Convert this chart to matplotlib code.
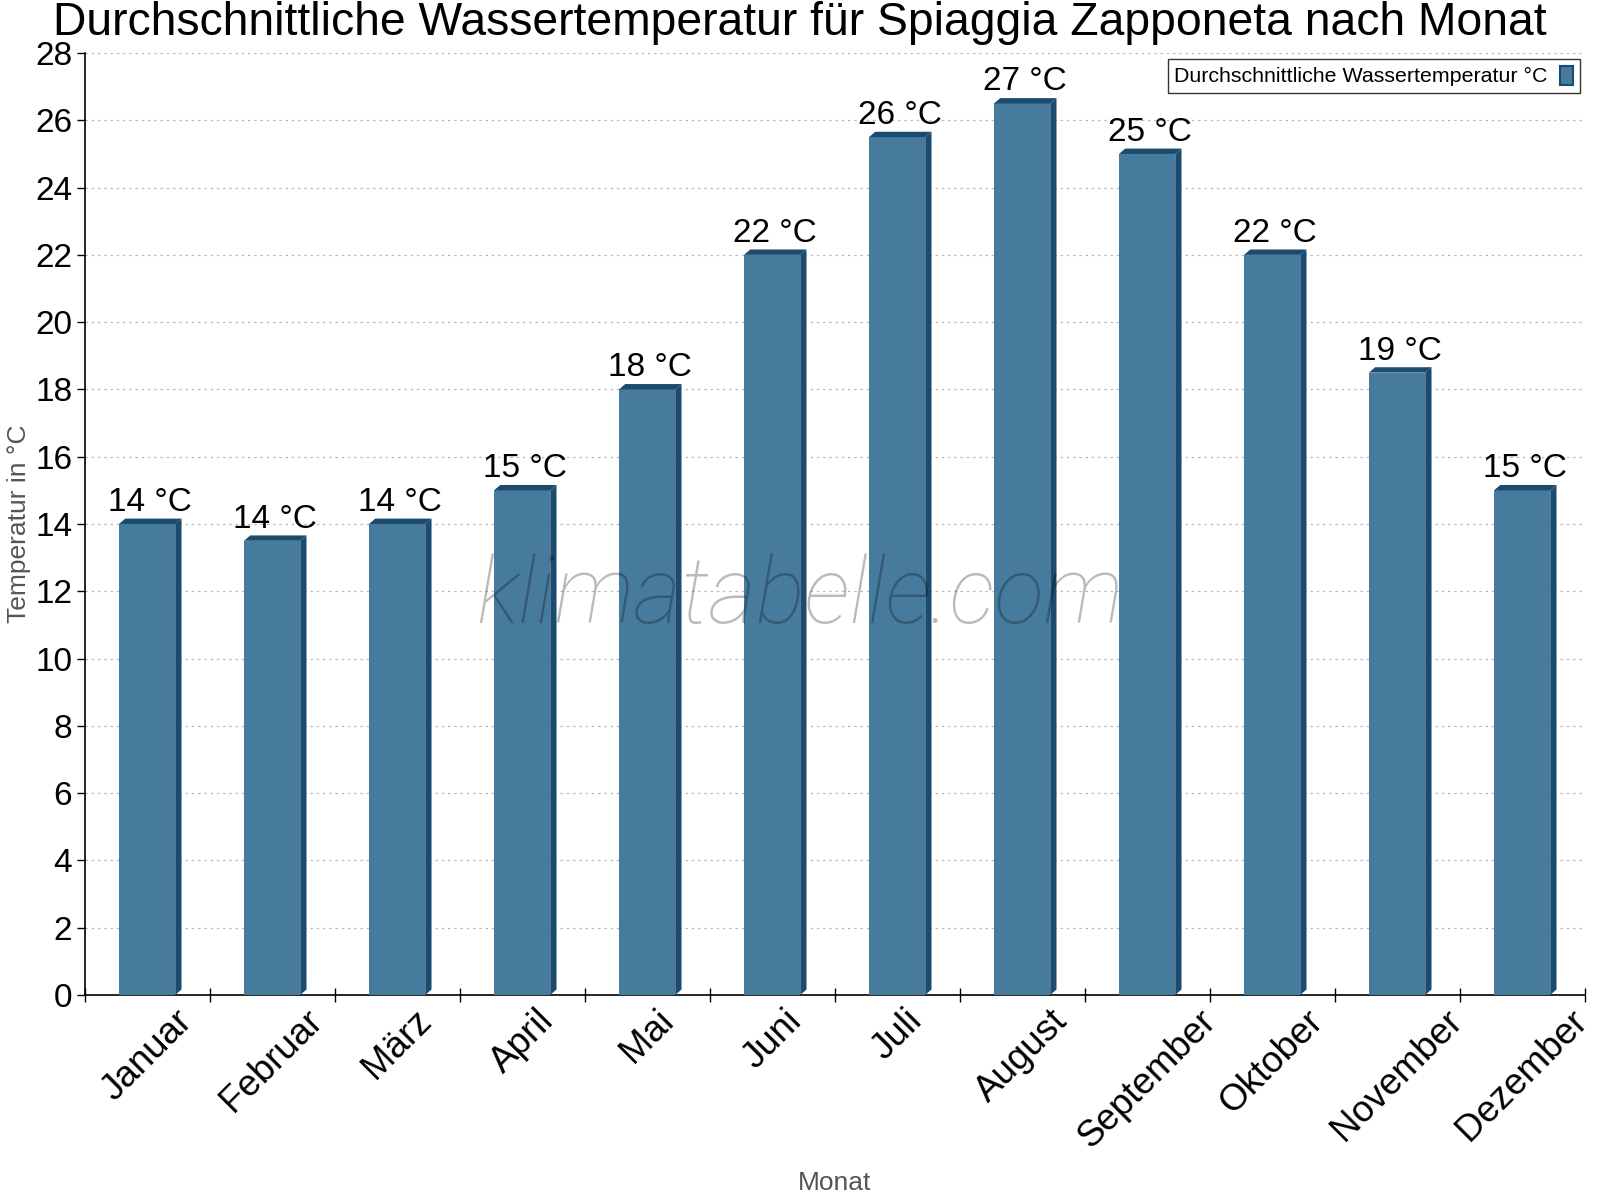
import numpy as np
import matplotlib
matplotlib.use("Agg")
import matplotlib.pyplot as plt
from matplotlib.patches import Polygon, Patch

plt.rcParams['font.family'] = ['Liberation Sans', 'DejaVu Sans']

# data
months = ["Januar", "Februar", "März", "April", "Mai", "Juni", "Juli",
          "August", "September", "Oktober", "November", "Dezember"]
water_temp = [14, 13.5, 14, 15, 18, 22, 25.5, 26.5, 25, 22, 18.5, 15]
labels = ["14 °C", "14 °C", "14 °C", "15 °C", "18 °C", "22 °C", "26 °C",
          "27 °C", "25 °C", "22 °C", "19 °C", "15 °C"]

front_col = "#477b9e"
dark_col = "#1b4b6e"

fig = plt.figure(figsize=(16, 12), dpi=100)
ax = fig.add_axes([0.0529, 0.1709, 0.9375, 0.7849])

x = np.arange(len(months))
w = 0.45
dx = 0.05
dy = 0.16

ax.bar(x, water_temp, width=w, color=front_col, zorder=3)

# fake 3d top and side
for xi, h in zip(x, water_temp):
    x0, x1 = xi - w / 2, xi + w / 2
    top = Polygon([(x0, h), (x0 + dx, h + dy), (x1 + dx, h + dy), (x1, h)],
                  closed=True, color=dark_col, zorder=4, lw=0)
    side = Polygon([(x1, h), (x1 + dx, h + dy), (x1 + dx, dy), (x1, 0)],
                   closed=True, color=dark_col, zorder=4, lw=0)
    ax.add_patch(top)
    ax.add_patch(side)

for xi, h, lab in zip(x, water_temp, labels):
    ax.text(xi + 0.02, h + dy + 0.02, lab, ha="center", va="bottom",
            fontsize=24, color="black", zorder=5)

ax.set_xlim(-0.5, 11.5)
ax.set_ylim(0, 28)
ax.set_yticks(np.arange(0, 29, 2))
ax.tick_params(axis="y", labelsize=24, length=6, width=1, direction="out", pad=3)

ax.set_xticks(x)
ax.set_xticklabels(months, rotation=45, ha="center", fontsize=26.5)
ax.set_xticks(np.arange(-0.5, 12, 1), minor=True)
ax.tick_params(axis="x", which="major", length=0, pad=6)
ax.tick_params(axis="x", which="minor", length=10, direction="inout", width=1)

ax.grid(axis="y", linestyle=(0, (2, 3)), color="#bbbbbb", lw=0.9, zorder=0)
ax.spines["top"].set_visible(False)
ax.spines["right"].set_visible(False)
ax.spines["left"].set_linewidth(1.2)
ax.spines["bottom"].set_linewidth(1.2)

ax.set_ylabel("Temperatur in °C", fontsize=19, color="#555555")
ax.yaxis.set_label_coords(-0.036, 0.5)
ax.set_xlabel("Monat", fontsize=19, color="#555555")
ax.xaxis.set_label_coords(0.5, -0.187)

fig.text(0.5, 0.981, "Durchschnittliche Wassertemperatur für Spiaggia Zapponeta nach Monat",
         ha="center", va="center", fontsize=33.3)

fig.text(0.5, 0.502, "klimatabelle.com", ha="center", va="center", fontsize=66,
         style="italic", family=["Roboto", "Liberation Sans"], weight="light",
         color="black", alpha=0.27, zorder=10)

handle = Patch(facecolor=front_col, edgecolor=dark_col, lw=1.5)
leg = ax.legend([handle], ["Durchschnittliche Wassertemperatur °C"], loc="upper right",
                markerfirst=False, fontsize=15.4, frameon=True, fancybox=False,
                edgecolor="black", handlelength=0.6, handleheight=1.0,
                borderpad=0.3, handletextpad=0.6, borderaxespad=0,
                bbox_to_anchor=(0.9966, 0.9935))
leg.get_frame().set_linewidth(1.0)

fig.savefig("out.png", dpi=100)
